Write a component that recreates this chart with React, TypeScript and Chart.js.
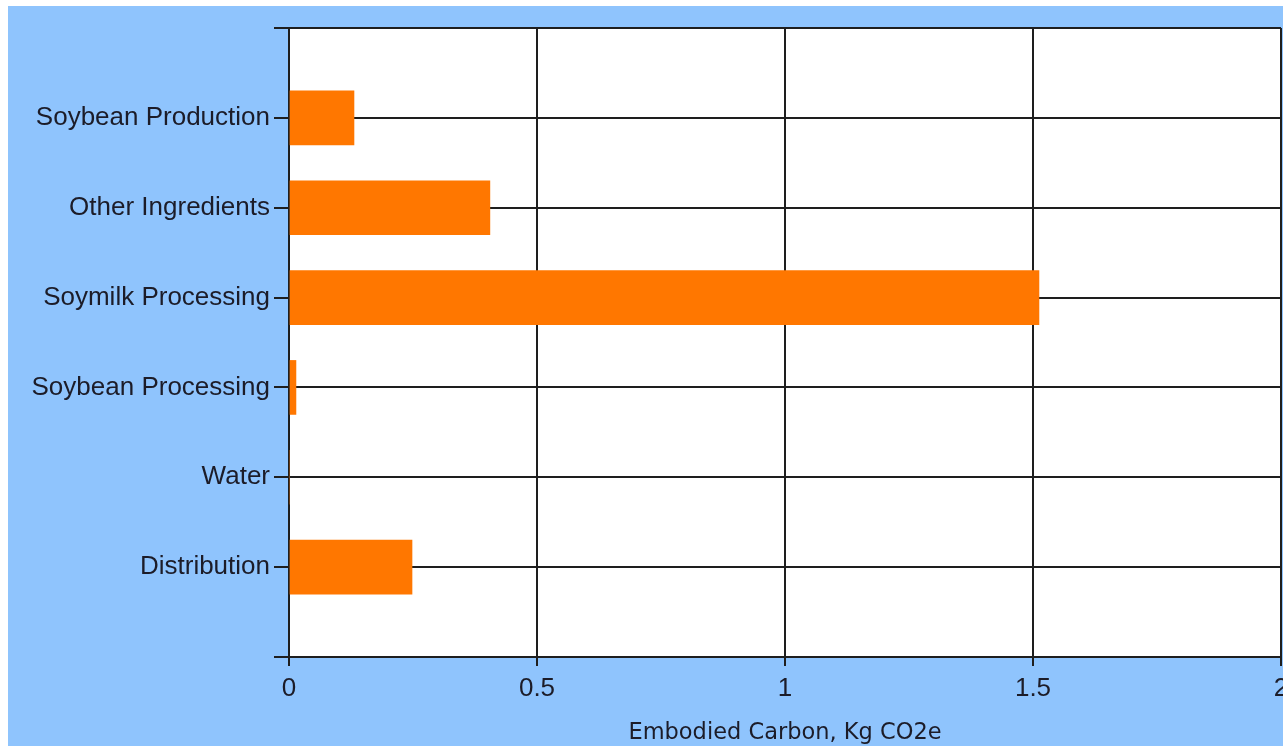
import React, { useEffect, useRef } from "react";
import { Chart, registerables } from "chart.js";

Chart.register(...registerables);

const categories = [
  "",
  "Soybean Production",
  "Other Ingredients",
  "Soymilk Processing",
  "Soybean Processing",
  "Water",
  "Distribution",
  "",
];
const carbonValues = [null, 0.131, 0.405, 1.512, 0.014, 0, 0.248, null];
const xTickValues = [0, 0.5, 1, 1.5, 2];
const xAxisTitle = "Embodied Carbon, Kg CO2e";

const whiteArea = {
  id: "whiteArea",
  beforeDraw(chart: any) {
    const { ctx, chartArea } = chart;
    ctx.save();
    ctx.fillStyle = "#ffffff";
    ctx.fillRect(chartArea.left, chartArea.top, chartArea.right - chartArea.left, chartArea.bottom - chartArea.top);
    ctx.restore();
  },
};

export default function App() {
  const ref = useRef<HTMLCanvasElement>(null);
  useEffect(() => {
    document.documentElement.style.overflow = "hidden";
    document.body.style.overflow = "hidden";
    if (!ref.current) return;
    const chart = new Chart(ref.current, {
      type: "bar",
      data: {
        labels: categories,
        datasets: [
          {
            data: carbonValues as any,
            backgroundColor: "#ff7700",
            borderWidth: 0,
            barThickness: 54,
          },
        ],
      },
      plugins: [whiteArea],
      options: {
        indexAxis: "y",
        animation: false,
        responsive: false,
        layout: { padding: { top: 22, right: 27, left: 0, bottom: 0 } },
        plugins: { legend: { display: false }, tooltip: { enabled: false } },
        scales: {
          x: {
            min: 0,
            max: 2,
            afterBuildTicks(scale: any) {
              scale.ticks = xTickValues.map((v) => ({ value: v }));
            },
            afterFit(scale: any) {
              scale.height = 89;
            },
            grid: { color: "#1e1e1e", lineWidth: 2, tickLength: 9, drawTicks: true },
            border: { color: "#1e1e1e", width: 2 },
            ticks: {
              color: "#1c1c28",
              padding: 7,
              maxRotation: 0,
              font: { family: "Liberation Sans", size: 26 },
              callback: (v: any) => String(v),
            },
            title: {
              display: true,
              text: xAxisTitle,
              color: "#1c1c28",
              font: { family: "DejaVu Sans", size: 22.5 },
              padding: { top: 0, bottom: -1 },
            },
          },
          y: {
            type: "category",
            offset: false,
            afterFit(scale: any) {
              scale.width = 281;
            },
            grid: { color: "#1e1e1e", lineWidth: 2, tickLength: 15, offset: false },
            border: { color: "#1e1e1e", width: 2 },
            ticks: {
              color: "#1c1c28",
              padding: 4,
              autoSkip: false,
              font: { family: "Liberation Sans", size: 26 },
            },
          },
        },
      },
    } as any);
    return () => chart.destroy();
  }, []);
  return (
    <div style={{ position: "absolute", left: 8, top: 6, width: 1275, height: 740, overflow: "hidden", background: "#8fc4fd" }}>
      <canvas ref={ref} width={1300} height={740} style={{ display: "block", width: 1300, height: 740 }} />
    </div>
  );
}
